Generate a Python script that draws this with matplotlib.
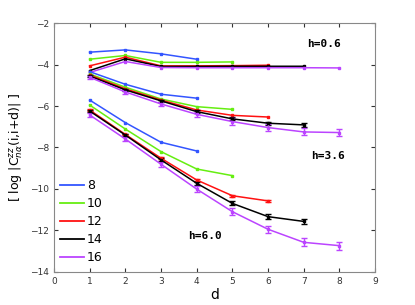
import matplotlib
matplotlib.use("Agg")
import matplotlib.pyplot as plt
from matplotlib.lines import Line2D

sizes = ["8", "10", "12", "14", "16"]
colors = ["#3355ff", "#66ee11", "#ff1111", "#000000", "#bb44ff"]

# h = 0.6
h06 = {
    "8": [-3.40, -3.29, -3.48, -3.74],
    "10": [-3.74, -3.56, -3.89, -3.89, -3.87],
    "12": [-4.06, -3.64, -4.06, -4.06, -4.05, -4.03],
    "14": [-4.29, -3.72, -4.09, -4.09, -4.08, -4.08, -4.08],
    "16": [-4.38, -3.85, -4.14, -4.15, -4.15, -4.15, -4.15, -4.16],
}
# h = 3.6
h36 = {
    "8": [-4.34, -4.95, -5.43, -5.62],
    "10": [-4.45, -5.09, -5.66, -6.03, -6.16],
    "12": [-4.50, -5.17, -5.71, -6.19, -6.45, -6.53],
    "14": [-4.55, -5.22, -5.75, -6.27, -6.62, -6.83, -6.91],
    "16": [-4.61, -5.32, -5.90, -6.40, -6.75, -7.04, -7.25, -7.28],
}
h36_err = {
    "14": [0.05, 0.05, 0.05, 0.06, 0.07, 0.08, 0.08],
    "16": [0.08, 0.09, 0.10, 0.12, 0.15, 0.15, 0.17, 0.17],
}
# h = 6.0
h60 = {
    "8": [-5.71, -6.80, -7.75, -8.17],
    "10": [-5.95, -7.11, -8.20, -9.04, -9.36],
    "12": [-6.19, -7.37, -8.52, -9.57, -10.33, -10.58],
    "14": [-6.24, -7.40, -8.60, -9.73, -10.70, -11.34, -11.57],
    "16": [-6.43, -7.59, -8.81, -10.01, -11.10, -11.95, -12.58, -12.74],
}
h60_err = {
    "12": [0.04, 0.04, 0.04, 0.05, 0.05, 0.06],
    "14": [0.06, 0.06, 0.07, 0.08, 0.10, 0.11, 0.12],
    "16": [0.10, 0.11, 0.12, 0.14, 0.16, 0.18, 0.20, 0.20],
}

fig = plt.figure(figsize=(4.15, 3.05), dpi=100)
ax = fig.add_axes([0.130, 0.109, 0.774, 0.815])

for group, errs in [(h06, {}), (h36, h36_err), (h60, h60_err)]:
    for n, c in zip(sizes, colors):
        y = group[n]
        d = list(range(1, len(y) + 1))
        if n in errs:
            ax.errorbar(d, y, yerr=errs[n], color=c, lw=1.1, marker="s", ms=1.6,
                        capsize=2.5, elinewidth=1.0)
        else:
            ax.plot(d, y, color=c, lw=1.1, marker="s", ms=1.6)

txt = dict(family="DejaVu Sans Mono", fontweight="bold", fontsize=8)
ax.text(7.1, -3.15, "h=0.6", **txt)
ax.text(7.2, -8.55, "h=3.6", **txt)
ax.text(3.75, -12.4, "h=6.0", **txt)

ax.set_xlim(0, 9)
ax.set_ylim(-14, -2)
ax.set_xticks(range(0, 10))
ax.set_yticks(range(-14, -1, 2))
ax.tick_params(direction="in", labelsize=6.5, top=True, right=True, length=3, colors="#333333")
for s in ax.spines.values():
    s.set_color("#888888")
ax.set_xlabel("d", fontsize=10, labelpad=2)
ax.set_ylabel(r"[ log |C$^{zz}_{n\alpha}$(i,i+d)| ]", fontsize=9)

handles = [Line2D([], [], color=c, lw=1.3) for c in colors]
ax.legend(handles, sizes, loc="lower left", frameon=False, fontsize=9, handlelength=1.9,
          handletextpad=0.2, labelspacing=0.4, bbox_to_anchor=(-0.015, -0.015))

fig.savefig("out.png", dpi=100)
